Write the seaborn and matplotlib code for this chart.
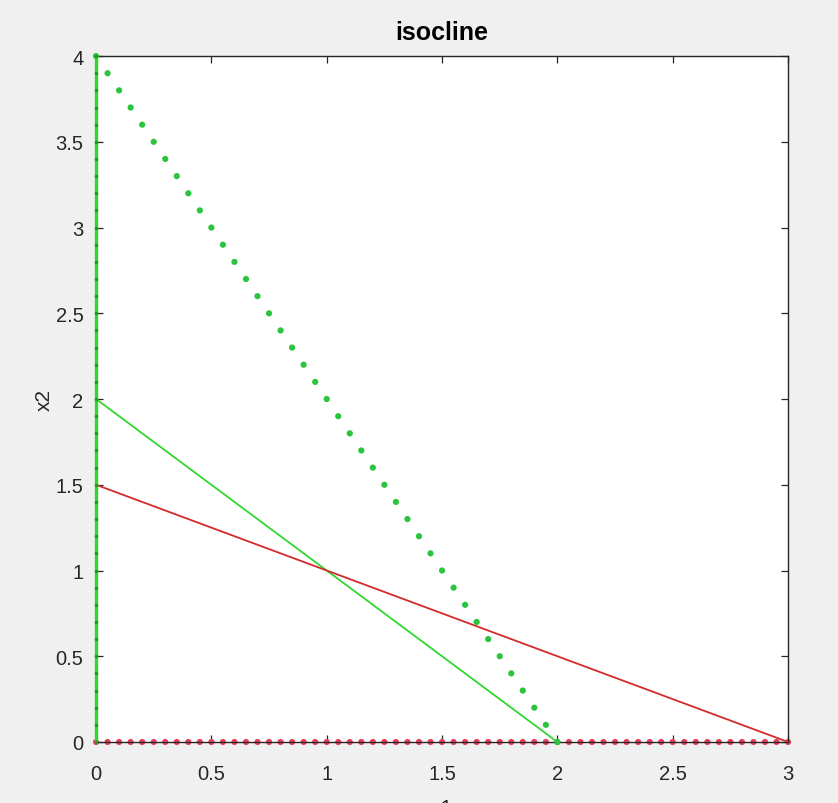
import matplotlib
matplotlib.use("Agg")
import matplotlib.pyplot as plt
import seaborn as sns
import pandas as pd

# ---- data ----
green_line_x = [0.0, 2.0]
green_line_y = [2.0, 0.0]
red_line_x = [0.0, 3.0]
red_line_y = [1.5, 0.0]

green_dot_x = [0.00, 0.05, 0.10, 0.15, 0.20, 0.25, 0.30, 0.35, 0.40, 0.45,
               0.50, 0.55, 0.60, 0.65, 0.70, 0.75, 0.80, 0.85, 0.90, 0.95,
               1.00, 1.05, 1.10, 1.15, 1.20, 1.25, 1.30, 1.35, 1.40, 1.45,
               1.50, 1.55, 1.60, 1.65, 1.70, 1.75, 1.80, 1.85, 1.90, 1.95, 2.00]
green_dot_y = [4.0, 3.9, 3.8, 3.7, 3.6, 3.5, 3.4, 3.3, 3.2, 3.1,
               3.0, 2.9, 2.8, 2.7, 2.6, 2.5, 2.4, 2.3, 2.2, 2.1,
               2.0, 1.9, 1.8, 1.7, 1.6, 1.5, 1.4, 1.3, 1.2, 1.1,
               1.0, 0.9, 0.8, 0.7, 0.6, 0.5, 0.4, 0.3, 0.2, 0.1, 0.0]

green_axis_x = [0.0, 0.0, 0.0, 0.0, 0.0, 0.0, 0.0, 0.0, 0.0, 0.0,
                0.0, 0.0, 0.0, 0.0, 0.0, 0.0, 0.0, 0.0, 0.0, 0.0,
                0.0, 0.0, 0.0, 0.0, 0.0, 0.0, 0.0, 0.0, 0.0, 0.0,
                0.0, 0.0, 0.0, 0.0, 0.0, 0.0, 0.0, 0.0, 0.0, 0.0, 0.0]
green_axis_y = [0.0, 0.1, 0.2, 0.3, 0.4, 0.5, 0.6, 0.7, 0.8, 0.9,
                1.0, 1.1, 1.2, 1.3, 1.4, 1.5, 1.6, 1.7, 1.8, 1.9,
                2.0, 2.1, 2.2, 2.3, 2.4, 2.5, 2.6, 2.7, 2.8, 2.9,
                3.0, 3.1, 3.2, 3.3, 3.4, 3.5, 3.6, 3.7, 3.8, 3.9, 4.0]

red_dot_x = [0.00, 0.05, 0.10, 0.15, 0.20, 0.25, 0.30, 0.35, 0.40, 0.45,
             0.50, 0.55, 0.60, 0.65, 0.70, 0.75, 0.80, 0.85, 0.90, 0.95,
             1.00, 1.05, 1.10, 1.15, 1.20, 1.25, 1.30, 1.35, 1.40, 1.45,
             1.50, 1.55, 1.60, 1.65, 1.70, 1.75, 1.80, 1.85, 1.90, 1.95,
             2.00, 2.05, 2.10, 2.15, 2.20, 2.25, 2.30, 2.35, 2.40, 2.45,
             2.50, 2.55, 2.60, 2.65, 2.70, 2.75, 2.80, 2.85, 2.90, 2.95, 3.00]
red_dot_y = [0.0, 0.0, 0.0, 0.0, 0.0, 0.0, 0.0, 0.0, 0.0, 0.0,
             0.0, 0.0, 0.0, 0.0, 0.0, 0.0, 0.0, 0.0, 0.0, 0.0,
             0.0, 0.0, 0.0, 0.0, 0.0, 0.0, 0.0, 0.0, 0.0, 0.0,
             0.0, 0.0, 0.0, 0.0, 0.0, 0.0, 0.0, 0.0, 0.0, 0.0,
             0.0, 0.0, 0.0, 0.0, 0.0, 0.0, 0.0, 0.0, 0.0, 0.0,
             0.0, 0.0, 0.0, 0.0, 0.0, 0.0, 0.0, 0.0, 0.0, 0.0, 0.0]

x_ticks = [0, 0.5, 1, 1.5, 2, 2.5, 3]
x_tick_labels = ["0", "0.5", "1", "1.5", "2", "2.5", "3"]
y_ticks = [0, 0.5, 1, 1.5, 2, 2.5, 3, 3.5, 4]
y_tick_labels = ["0", "0.5", "1", "1.5", "2", "2.5", "3", "3.5", "4"]

title_text = "isocline"
x_label = "x1"
y_label = "x2"

# ---- style ----
sns.set_theme(style="white")
plt.rcParams["font.family"] = ["Liberation Sans", "DejaVu Sans"]

GREEN = "#2fd82f"
GREEN_DOT = "#2bc43e"
RED = "#d42a2a"
RED_DOT = "#ea3f5c"
DARK = "#262626"

fig = plt.figure(figsize=(8.38, 8.04), dpi=100, facecolor="#f0f0f0")
ax = fig.add_axes([0.1146, 0.0759, 0.8258, 0.8531])
ax.set_facecolor("white")

# vertical green isocline on x = 0
sns.lineplot(x=green_axis_x, y=green_axis_y, ax=ax, color=GREEN, linewidth=2.4,
             estimator=None, sort=False, marker=".", markersize=3.5,
             markeredgecolor="#1f9a1f", markerfacecolor="#1f9a1f", clip_on=False, zorder=5)

# green solid line
sns.lineplot(x=green_line_x, y=green_line_y, ax=ax, color=GREEN, linewidth=1.3,
             estimator=None, sort=False, zorder=3)
# red solid line
sns.lineplot(x=red_line_x, y=red_line_y, ax=ax, color=RED, linewidth=1.3,
             estimator=None, sort=False, zorder=3)

# green dotted isocline
sns.scatterplot(x=green_dot_x, y=green_dot_y, ax=ax, color=GREEN_DOT, s=20,
                edgecolor="none", zorder=4, clip_on=False)

# red dots on x2 = 0 (drawn beneath the axis line, as in the reference)
sns.scatterplot(x=red_dot_x, y=red_dot_y, ax=ax, color=RED_DOT, s=20,
                edgecolor="none", zorder=2, clip_on=False)

ax.set_xlim(0, 3)
ax.set_ylim(0, 4)
ax.set_xticks(x_ticks)
ax.set_xticklabels(x_tick_labels)
ax.set_yticks(y_ticks)
ax.set_yticklabels(y_tick_labels)

for sp in ax.spines.values():
    sp.set_visible(True)
    sp.set_color(DARK)
    sp.set_linewidth(1.0)
    sp.set_zorder(2.5)

ax.tick_params(axis="x", which="both", direction="in", length=5, width=0.9,
               colors=DARK, labelsize=14.5, top=True, bottom=True,
               labelcolor=DARK, pad=16)
ax.tick_params(axis="y", which="both", direction="in", length=5, width=0.9,
               colors=DARK, labelsize=14.5, left=True, right=True,
               labelcolor=DARK, pad=9)

ax.set_title(title_text, fontsize=18, fontweight="bold", color="black", pad=12)
ax.set_ylabel(y_label, fontsize=15, color=DARK, labelpad=1)
ax.set_xlabel(x_label, fontsize=15, color=DARK, labelpad=11)

fig.savefig("out.png", dpi=100, facecolor=fig.get_facecolor())
